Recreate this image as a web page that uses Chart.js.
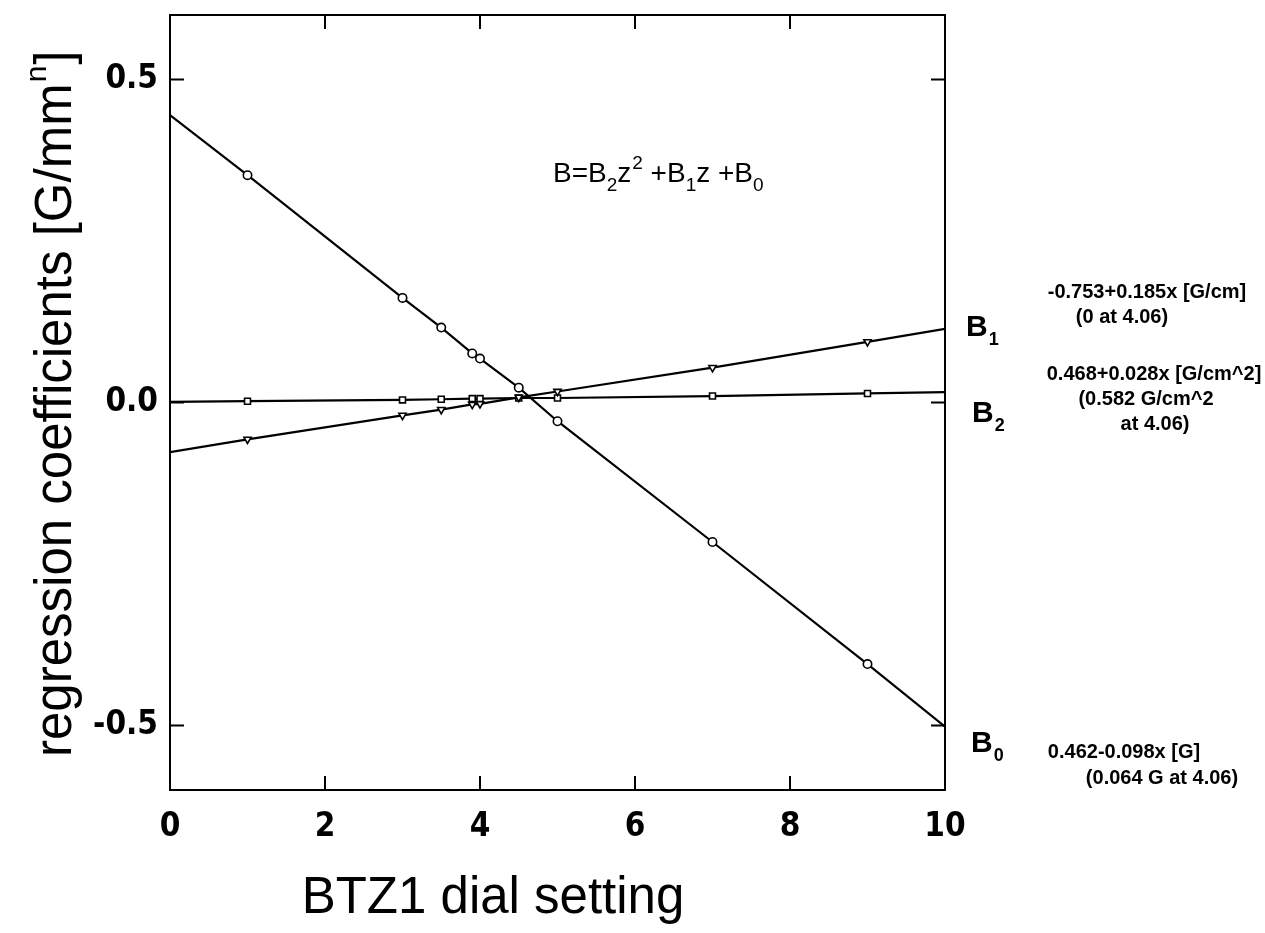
<!DOCTYPE html>
<html><head><meta charset="utf-8">
<script src="https://cdn.jsdelivr.net/npm/chart.js@4/dist/chart.umd.min.js"></script>
<style>html,body{margin:0;padding:0;background:#fff;}#wrap{width:1265px;height:933px;}</style>
</head><body><div id="wrap"><canvas id="c" width="1265" height="933"></canvas></div>
<script>
// ---- data ----
const dialSettings = [0, 1, 3, 3.5, 3.9, 4.0, 4.5, 5, 7, 9, 10];
const b0Values = [0.445, 0.352, 0.162, 0.116, 0.076, 0.068, 0.023, -0.029, -0.216, -0.405, -0.502];
const b1Values = [-0.077, -0.057, -0.020, -0.011, -0.003, -0.002, 0.008, 0.017, 0.054, 0.094, 0.114];
const b2Values = [0.001, 0.002, 0.004, 0.005, 0.006, 0.006, 0.007, 0.007, 0.010, 0.014, 0.016];
const xTickValues = [0, 2, 4, 6, 8, 10];
const yTickValues = [-0.5, 0.0, 0.5];
const seriesNames = ['B0', 'B1', 'B2'];
const fitLabels = {
  B1: ['-0.753+0.185x [G/cm]', '(0 at 4.06)'],
  B2: ['0.468+0.028x [G/cm^2]', '(0.582 G/cm^2', 'at 4.06)'],
  B0: ['0.462-0.098x [G]', '(0.064 G at 4.06)']
};
const xTitle = 'BTZ1 dial setting';
const yTitleMain = 'regression coefficients [G/mm';
const yTitleSup = 'n';
const yTitleEnd = ']';

const TICKFONT = "'Liberation Sans Narrow', 'DejaVu Sans Condensed', 'Liberation Sans', sans-serif";
const SANS = "'Liberation Sans', Arial, sans-serif";

function pts(vals) { return dialSettings.map((x, i) => ({x: x, y: vals[i]})); }
function rad(ctx) { const x = dialSettings[ctx.dataIndex]; return (x === 0 || x === 10) ? 0 : 4.2; }

const mk = (label, vals, style, rot) => ({
  label: label, data: pts(vals), showLine: true, borderColor: '#000', borderWidth: 2.2,
  pointStyle: style, pointRotation: rot, pointRadius: rad, pointBackgroundColor: '#fff', pointBorderColor: '#000',
  pointBorderWidth: 1.6, tension: 0, fill: false
});

const decor = {
  id: 'decor',
  afterDatasetsDraw(chart) {
    const c = chart.ctx, a = chart.chartArea, xs = chart.scales.x, ys = chart.scales.y;
    c.save();
    c.strokeStyle = '#000'; c.lineWidth = 2;
    c.strokeRect(a.left, a.top, a.right - a.left, a.bottom - a.top);
    const TL = 14;
    c.beginPath();
    xTickValues.forEach(v => {
      const px = xs.getPixelForValue(v);
      c.moveTo(px, a.bottom); c.lineTo(px, a.bottom - TL);
      c.moveTo(px, a.top); c.lineTo(px, a.top + TL);
    });
    yTickValues.forEach(v => {
      const py = ys.getPixelForValue(v);
      c.moveTo(a.left, py); c.lineTo(a.left + TL, py);
      c.moveTo(a.right, py); c.lineTo(a.right - TL, py);
    });
    c.stroke();
    c.fillStyle = '#000';
    // x title
    c.font = '51px ' + SANS; c.textAlign = 'center'; c.textBaseline = 'alphabetic';
    c.fillText(xTitle, 493, 913);
    // y title (rotated)
    c.save();
    c.translate(71, 757); c.rotate(-Math.PI / 2);
    c.font = '51px ' + SANS; c.textAlign = 'left';
    c.fillText(yTitleMain, 0, 0);
    let w = c.measureText(yTitleMain).width;
    c.font = '30px ' + SANS; c.fillText(yTitleSup, w + 1, -25);
    let w2 = c.measureText(yTitleSup).width;
    c.font = '51px ' + SANS; c.fillText(yTitleEnd, w + w2 + 2, 0);
    c.restore();
    // equation B=B2z^2 +B1z +B0
    const parts = [['B=B', 0], ['2', 1], ['z', 0], ['2', 2], [' +B', 0], ['1', 1], ['z +B', 0], ['0', 1]];
    let x = 553; const base = 182;
    c.textAlign = 'left';
    parts.forEach(p => {
      if (p[1] === 0) { c.font = '28px ' + SANS; c.fillText(p[0], x, base); }
      else if (p[1] === 1) { c.font = '19px ' + SANS; c.fillText(p[0], x, base + 9); }
      else { c.font = '19px ' + SANS; c.fillText(p[0], x + 1, base - 13); }
      x += c.measureText(p[0]).width + (p[1] === 2 ? 1 : 0);
    });
    // series labels on the right
    const bl = [['B', '1', 966, 336], ['B', '2', 972, 422], ['B', '0', 971, 752]];
    bl.forEach(b => {
      c.font = 'bold 30px ' + SANS; c.fillText(b[0], b[2], b[3]);
      const bw = c.measureText(b[0]).width;
      c.font = 'bold 18px ' + SANS; c.fillText(b[1], b[2] + bw + 1, b[3] + 9);
    });
    // fit annotations
    c.textAlign = 'center';
    c.font = 'bold 20px ' + SANS;
    const ann = [
      [fitLabels.B1[0], 1147, 298], [fitLabels.B1[1], 1122, 323],
      [fitLabels.B2[0], 1154, 380], [fitLabels.B2[1], 1146, 405], [fitLabels.B2[2], 1155, 430],
      [fitLabels.B0[0], 1124, 758], [fitLabels.B0[1], 1162, 784]
    ];
    ann.forEach(t => c.fillText(t[0], t[1], t[2]));
    c.restore();
  }
};

new Chart(document.getElementById('c'), {
  type: 'scatter',
  data: { datasets: [mk(seriesNames[0], b0Values, 'circle', 0), mk(seriesNames[1], b1Values, 'triangle', 180), mk(seriesNames[2], b2Values, 'rect', 0)] },
  options: {
    responsive: false, animation: false, devicePixelRatio: 1,
    layout: { padding: { left: 0, right: 320, top: 15, bottom: 0 } },
    plugins: { legend: { display: false }, tooltip: { enabled: false } },
    scales: {
      x: {
        type: 'linear', min: 0, max: 10,
        afterBuildTicks: s => { s.ticks = xTickValues.map(v => ({value: v})); },
        afterFit: s => { s.height = 143; s.paddingLeft = 0; s.paddingRight = 0; },
        grid: { display: false, drawTicks: false }, border: { display: false },
        ticks: { color: '#000', padding: 18, maxRotation: 0, font: { family: TICKFONT, size: 33, weight: 'bold' }, callback: v => String(v) }
      },
      y: {
        type: 'linear', min: -0.6, max: 0.6,
        afterBuildTicks: s => { s.ticks = yTickValues.map(v => ({value: v})); },
        afterFit: s => { s.width = 170; s.paddingTop = 0; s.paddingBottom = 0; },
        grid: { display: false, drawTicks: false }, border: { display: false },
        ticks: { color: '#000', padding: 12, font: { family: TICKFONT, size: 33, weight: 'bold' }, callback: v => v.toFixed(1) }
      }
    }
  },
  plugins: [decor]
});
</script></body></html>
